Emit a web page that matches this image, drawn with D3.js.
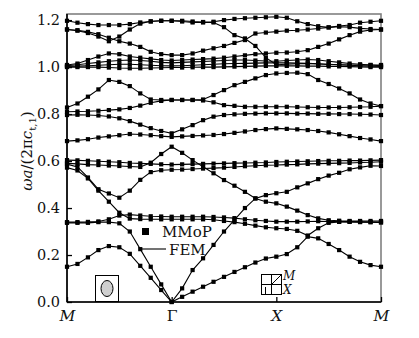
<!DOCTYPE html>
<html>
<head>
<meta charset="utf-8">
<script src="https://cdn.jsdelivr.net/npm/d3@7"></script>
<style>
  html, body { margin: 0; padding: 0; background: #fff; }
  svg { display: block; }
</style>
</head>
<body>
<svg id="chart" width="419" height="338"></svg>
<script>
// k-path: M -> Gamma -> X -> M, 10 steps per leg (31 sample points)
const kTicks = [0, 10, 20, 30];
const kLabels = ["M", "Γ", "X", "M"];
const yTicks = [0.0, 0.2, 0.4, 0.6, 0.8, 1.0, 1.2];

// band frequencies, normalised omega*a/(2*pi*c_t1), at the 31 k-points
const band01 = [0.150,0.162,0.190,0.221,0.238,0.233,0.205,0.154,0.103,0.051,0.000, 0.022,0.044,0.065,0.086,0.107,0.128,0.148,0.168,0.185,0.193, 0.204,0.233,0.278,0.271,0.247,0.221,0.193,0.171,0.157,0.150];
const band02 = [0.337,0.337,0.337,0.340,0.340,0.335,0.300,0.225,0.150,0.075,0.000, 0.058,0.136,0.186,0.243,0.300,0.350,0.400,0.441,0.455,0.463, 0.469,0.488,0.505,0.523,0.538,0.550,0.565,0.573,0.580,0.579];
const band03 = [0.340,0.340,0.341,0.343,0.352,0.368,0.372,0.368,0.365,0.364,0.363, 0.363,0.363,0.363,0.362,0.360,0.357,0.352,0.348,0.345,0.342, 0.342,0.342,0.343,0.344,0.343,0.342,0.341,0.340,0.340,0.339];
const band04 = [0.572,0.560,0.526,0.474,0.427,0.380,0.355,0.353,0.352,0.352,0.352, 0.352,0.352,0.352,0.350,0.345,0.340,0.333,0.325,0.318,0.314, 0.311,0.303,0.283,0.314,0.337,0.341,0.342,0.341,0.340,0.339];
const band05 = [0.587,0.575,0.530,0.480,0.462,0.444,0.474,0.520,0.553,0.561,0.563, 0.564,0.566,0.568,0.570,0.572,0.575,0.578,0.580,0.582,0.583, 0.585,0.586,0.588,0.589,0.590,0.591,0.592,0.594,0.595,0.597];
const band06 = [0.590,0.588,0.585,0.583,0.581,0.579,0.577,0.575,0.593,0.630,0.661, 0.635,0.604,0.576,0.548,0.519,0.495,0.469,0.441,0.427,0.420, 0.406,0.389,0.370,0.356,0.348,0.346,0.345,0.345,0.345,0.345];
const band07 = [0.604,0.603,0.601,0.599,0.597,0.595,0.592,0.590,0.588,0.586,0.585, 0.586,0.587,0.588,0.589,0.590,0.591,0.592,0.593,0.594,0.596, 0.597,0.598,0.599,0.600,0.601,0.601,0.602,0.602,0.603,0.604];
const band08 = [0.685,0.688,0.693,0.700,0.705,0.710,0.715,0.713,0.710,0.706,0.703, 0.705,0.707,0.709,0.711,0.715,0.720,0.726,0.732,0.736,0.739, 0.737,0.735,0.732,0.728,0.722,0.714,0.706,0.698,0.692,0.685];
const band09 = [0.796,0.797,0.796,0.794,0.790,0.782,0.770,0.755,0.740,0.728,0.718, 0.735,0.753,0.774,0.789,0.796,0.799,0.801,0.802,0.803,0.803, 0.803,0.802,0.802,0.801,0.801,0.800,0.800,0.799,0.798,0.796];
const band10 = [0.810,0.811,0.812,0.814,0.817,0.820,0.826,0.836,0.848,0.856,0.860, 0.860,0.860,0.858,0.850,0.838,0.835,0.831,0.831,0.831,0.831, 0.831,0.830,0.829,0.828,0.828,0.828,0.829,0.830,0.831,0.834];
const band11 = [0.828,0.845,0.874,0.905,0.945,0.937,0.919,0.888,0.862,0.860,0.860, 0.860,0.860,0.862,0.881,0.902,0.923,0.937,0.952,0.966,0.973, 0.975,0.976,0.970,0.945,0.928,0.909,0.888,0.862,0.845,0.834];
const band12 = [1.000,1.000,1.000,1.000,0.998,0.996,0.995,0.995,0.996,0.997,0.998, 0.998,0.999,1.000,1.000,1.001,1.002,1.003,1.004,1.005,1.005, 1.005,1.005,1.004,1.004,1.003,1.003,1.002,1.001,1.000,1.000];
const band13 = [1.003,1.004,1.006,1.008,1.010,1.012,1.012,1.010,1.008,1.006,1.005, 1.006,1.008,1.010,1.012,1.014,1.015,1.016,1.017,1.018,1.018, 1.018,1.017,1.016,1.014,1.012,1.010,1.008,1.006,1.004,1.003];
const band14 = [1.006,1.010,1.015,1.020,1.025,1.028,1.030,1.028,1.025,1.020,1.018, 1.020,1.022,1.024,1.026,1.028,1.030,1.030,1.028,1.026,1.025, 1.028,1.030,1.032,1.030,1.025,1.020,1.015,1.012,1.009,1.006];
const band15 = [1.009,1.015,1.030,1.045,1.058,1.055,1.045,1.040,1.035,1.030,1.028, 1.030,1.032,1.034,1.036,1.040,1.045,1.050,1.055,1.058,1.061, 1.062,1.065,1.072,1.086,1.100,1.118,1.136,1.151,1.158,1.160];
const band16 = [1.160,1.157,1.150,1.140,1.125,1.110,1.100,1.086,1.065,1.055,1.051, 1.051,1.058,1.070,1.080,1.090,1.103,1.115,1.143,1.147,1.151, 1.155,1.157,1.160,1.164,1.169,1.172,1.170,1.165,1.162,1.160];
const band17 = [1.160,1.155,1.145,1.130,1.110,1.130,1.160,1.185,1.195,1.197,1.197, 1.194,1.190,1.190,1.190,1.170,1.136,1.122,1.090,1.040,1.010, 1.012,1.014,1.015,1.013,1.011,1.010,1.009,1.009,1.009,1.009];
const band18 = [1.197,1.189,1.183,1.179,1.179,1.179,1.183,1.190,1.194,1.197,1.197, 1.197,1.194,1.192,1.193,1.200,1.205,1.208,1.210,1.212,1.214, 1.210,1.195,1.183,1.174,1.169,1.175,1.179,1.189,1.193,1.197];

const bands = [band01, band02, band03, band04, band05, band06, band07, band08, band09,
               band10, band11, band12, band13, band14, band15, band16, band17, band18];

const svg = d3.select("#chart");
const W = 419, H = 338;
const margin = { left: 67, right: 38, top: 14, bottom: 36 };
const serif = "DejaVu Serif";
const ink = "#111";

const x = d3.scaleLinear().domain([0, 30]).range([margin.left, W - margin.right]);
const y = d3.scaleLinear().domain([0, 1.226]).range([H - margin.bottom, margin.top]);

// frame: grey top/right edges, black left/bottom axes
svg.append("rect")
  .attr("x", x(0)).attr("y", y(1.226))
  .attr("width", x(30) - x(0)).attr("height", y(0) - y(1.226))
  .attr("fill", "none").attr("stroke", "#808080").attr("stroke-width", 1.6);

// dispersion curves (FEM lines) and sampled points (MMoP markers)
const line = d3.line().x((d, i) => x(i)).y(d => y(d));
const gBands = svg.append("g");
bands.forEach(b => {
  gBands.append("path").attr("d", line(b))
    .attr("fill", "none").attr("stroke", "#000").attr("stroke-width", 1.1);
});
const ms = 4.2;
bands.forEach(b => {
  gBands.selectAll(null).data(b).enter().append("rect")
    .attr("x", (d, i) => x(i) - ms / 2).attr("y", d => y(d) - ms / 2)
    .attr("width", ms).attr("height", ms).attr("fill", "#000");
});

// y axis
const yAxis = d3.axisLeft(y).tickValues(yTicks).tickSize(-5).tickPadding(7)
  .tickFormat(d3.format(".1f"));
const gy = svg.append("g").attr("transform", `translate(${x(0)},0)`).call(yAxis)
  .attr("font-family", serif);
gy.select(".domain").attr("stroke", "#000").attr("stroke-width", 1.6).attr("d", `M0,${y(0)}V${y(1.226)}`);
gy.selectAll(".tick line").attr("stroke", "#000").attr("stroke-width", 1.3);
gy.selectAll(".tick text").attr("font-size", 14.5).attr("font-family", serif).attr("fill", ink);

// x axis with symmetry-point labels
const xAxis = d3.axisBottom(x).tickValues(kTicks).tickSize(-5).tickPadding(8)
  .tickFormat((d, i) => kLabels[i]);
const gx = svg.append("g").attr("transform", `translate(0,${y(0)})`).call(xAxis)
  .attr("font-family", serif);
gx.select(".domain").attr("stroke", "#000").attr("stroke-width", 1.6).attr("d", `M${x(0)},0H${x(30)}`);
gx.selectAll(".tick line").attr("stroke", "#000").attr("stroke-width", 1.3);
gx.selectAll(".tick text").attr("font-size", 15.5).attr("font-family", serif)
  .attr("fill", ink).attr("font-style", (d, i) => kLabels[i] === "Γ" ? "normal" : "italic");

// y axis title
const yt = svg.append("text").attr("transform", `translate(32,151) rotate(-90)`)
  .attr("text-anchor", "middle").attr("font-size", 15).attr("font-family", serif).attr("fill", ink);
yt.append("tspan").attr("font-style", "italic").text("ωa");
yt.append("tspan").text("/(2π");
yt.append("tspan").attr("font-style", "italic").text("c");
yt.append("tspan").attr("font-size", 10).attr("dy", 4).text("t,1");
yt.append("tspan").attr("dy", -4).text(")");

// legend
svg.append("rect").attr("x", 142).attr("y", 228).attr("width", 7).attr("height", 7).attr("fill", "#000");
svg.append("text").attr("x", 162).attr("y", 237).attr("font-size", 15).attr("font-family", serif).attr("fill", ink).text("MMoP");
svg.append("line").attr("x1", 142).attr("x2", 166).attr("y1", 249).attr("y2", 249)
  .attr("stroke", "#000").attr("stroke-width", 1.1);
svg.append("text").attr("x", 169).attr("y", 255).attr("font-size", 15).attr("font-family", serif).attr("fill", ink).text("FEM");

// unit cell inset
svg.append("rect").attr("x", 95.5).attr("y", 275.5).attr("width", 23).attr("height", 26)
  .attr("fill", "#fff").attr("stroke", "#000").attr("stroke-width", 1);
svg.append("ellipse").attr("cx", 107).attr("cy", 288.5).attr("rx", 6).attr("ry", 8)
  .attr("fill", "#cfcfcf").attr("stroke", "#000").attr("stroke-width", 1);

// Brillouin zone inset
const bz = svg.append("g").attr("fill", "none").attr("stroke", "#000").attr("stroke-width", 1);
bz.append("rect").attr("x", 261.5).attr("y", 274.5).attr("width", 20).attr("height", 20);
bz.append("line").attr("x1", 271.5).attr("x2", 271.5).attr("y1", 274.5).attr("y2", 294.5);
bz.append("line").attr("x1", 261.5).attr("x2", 281.5).attr("y1", 284.5).attr("y2", 284.5);
bz.append("line").attr("x1", 271.5).attr("x2", 281.5).attr("y1", 284.5).attr("y2", 274.5);
bz.append("line").attr("x1", 265.5).attr("x2", 265.5).attr("y1", 287).attr("y2", 294.5);
svg.append("text").attr("x", 283).attr("y", 280).attr("font-size", 12).attr("font-style", "italic")
  .attr("font-family", serif).attr("fill", ink).text("M");
svg.append("text").attr("x", 283).attr("y", 294).attr("font-size", 12).attr("font-style", "italic")
  .attr("font-family", serif).attr("fill", ink).text("X");
</script>
</body>
</html>
